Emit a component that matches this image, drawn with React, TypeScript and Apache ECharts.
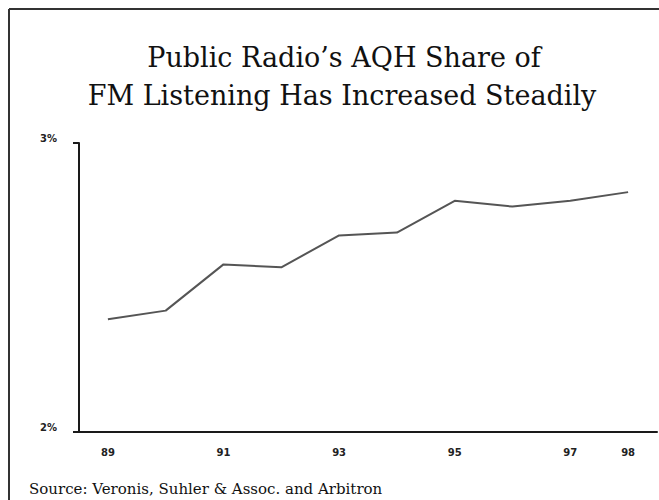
import React, { useEffect, useRef } from "react";
import * as echarts from "echarts";

// Fiscal years shown on the horizontal axis
const years = ["89", "90", "91", "92", "93", "94", "95", "96", "97", "98"];
// Public radio AQH share of FM listening (%)
const share = [2.39, 2.42, 2.58, 2.57, 2.68, 2.69, 2.8, 2.78, 2.8, 2.83];
// Years that carry a tick label
const labelledYears = ["89", "91", "93", "95", "97", "98"];

const titleLines = ["Public Radio\u2019s AQH Share of", "FM Listening Has Increased Steadily"];
const sourceNote = "Source: Veronis, Suhler & Assoc. and Arbitron";

export default function App() {
  const ref = useRef<HTMLDivElement>(null);

  useEffect(() => {
    if (!ref.current) return;
    const chart = echarts.init(ref.current, null, { renderer: "svg" });
    const serif = "'DejaVu Serif', 'Liberation Serif', serif";
    chart.setOption({
      animation: false,
      backgroundColor: "#ffffff",
      grid: { left: 79, right: 2, top: 143, bottom: 68, containLabel: false },
      xAxis: {
        type: "category",
        data: years,
        boundaryGap: true,
        axisLine: { show: true, lineStyle: { color: "#1a1a1a", width: 2 } },
        axisTick: { show: false },
        axisLabel: {
          interval: (i: number, v: string) => labelledYears.includes(v),
          margin: 15,
          color: "#222",
          fontFamily: "'DejaVu Sans', sans-serif",
          fontWeight: "bold",
          fontSize: 10,
        },
        splitLine: { show: false },
      },
      yAxis: {
        type: "value",
        min: 2,
        max: 3,
        interval: 1,
        axisLine: { show: true, lineStyle: { color: "#1a1a1a", width: 2 } },
        axisTick: { show: true, length: 6, lineStyle: { color: "#1a1a1a", width: 2 } },
        axisLabel: {
          formatter: (v: number) => `${v}%`,
          margin: 22,
          verticalAlign: "bottom",
          color: "#222",
          fontFamily: "'DejaVu Sans', sans-serif",
          fontWeight: "bold",
          fontSize: 10,
        },
        splitLine: { show: false },
      },
      series: [
        {
          type: "line",
          data: share,
          symbol: "none",
          lineStyle: { color: "#555555", width: 2 },
        },
      ],
      graphic: [
        {
          type: "line",
          shape: { x1: 9, y1: 9, x2: 659, y2: 9 },
          style: { stroke: "#333", lineWidth: 2 },
        },
        {
          type: "line",
          shape: { x1: 9, y1: 9, x2: 9, y2: 500 },
          style: { stroke: "#333", lineWidth: 2 },
        },
        {
          type: "text",
          x: 344,
          y: 57,
          style: {
            text: titleLines[0],
            font: `27px ${serif}`,
            fill: "#111",
            align: "center",
            verticalAlign: "middle",
          },
        },
        {
          type: "text",
          x: 342,
          y: 95,
          style: {
            text: titleLines[1],
            font: `27px ${serif}`,
            fill: "#111",
            align: "center",
            verticalAlign: "middle",
          },
        },
        {
          type: "text",
          x: 29,
          y: 489,
          style: {
            text: sourceNote,
            font: `15px ${serif}`,
            fill: "#111",
            align: "left",
            verticalAlign: "middle",
          },
        },
      ],
    });
    return () => chart.dispose();
  }, []);

  return (
    <div
      ref={ref}
      style={{ position: "fixed", left: 0, top: 0, width: 659, height: 500 }}
    />
  );
}
